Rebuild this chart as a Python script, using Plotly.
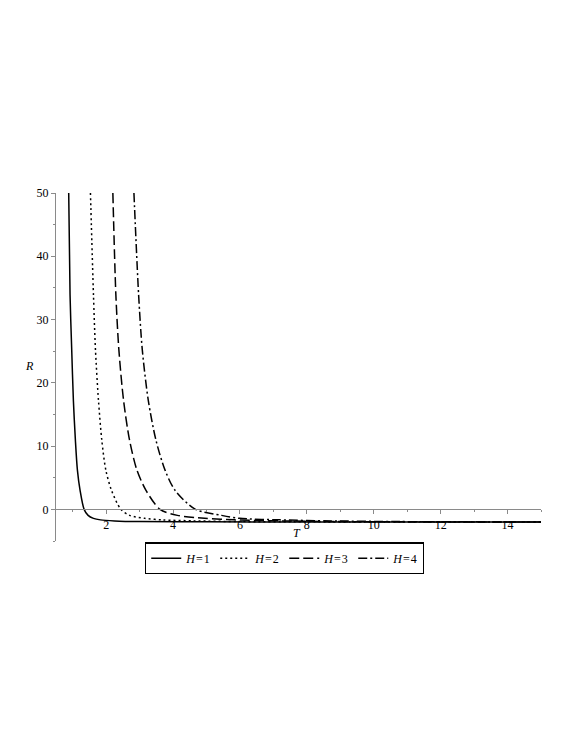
import plotly.graph_objects as go

# values
T1 = [0.88, 0.92, 0.97, 1.02, 1.08, 1.14, 1.22, 1.34, 1.46, 1.62, 1.83, 2.25, 3.0, 5.0, 8.0, 15.0]
R1 = [50, 33.9, 25.2, 17.2, 10.9, 6.2, 3.0, 0.0, -0.95, -1.42, -1.66, -1.82, -1.93, -1.97, -1.99, -2.0]

T2 = [1.53, 1.62, 1.68, 1.77, 1.87, 1.99, 2.16, 2.44, 2.70, 3.15, 3.69, 4.64, 6.0, 8.0, 10.0, 15.0]
R2 = [50, 33.9, 25.2, 17.2, 10.9, 6.2, 3.0, 0.0, -0.95, -1.42, -1.66, -1.82, -1.93, -1.97, -1.99, -2.0]

T3 = [2.20, 2.29, 2.38, 2.52, 2.70, 2.92, 3.19, 3.61, 4.13, 4.94, 5.84, 7.19, 8.98, 11.0, 15.0]
R3 = [50, 33.9, 25.2, 17.2, 10.9, 6.2, 3.0, 0.0, -0.95, -1.42, -1.66, -1.82, -1.93, -1.97, -2.0]

T4 = [2.83, 2.97, 3.08, 3.26, 3.49, 3.76, 4.06, 4.67, 5.45, 5.99, 7.19, 8.69, 10.78, 15.0]
R4 = [50, 33.9, 25.2, 17.2, 10.9, 6.2, 3.0, 0.0, -0.95, -1.42, -1.66, -1.82, -1.93, -2.0]

NAMES = ['<i>H</i>\u200a=\u200a1', '<i>H</i>\u200a=\u200a2', '<i>H</i>\u200a=\u200a3', '<i>H</i>\u200a=\u200a4']
DASHES = ['solid', '2px,3px', '10px,4px', '9px,3px,2px,3px']

AXIS_GREY = '#8a8a8a'
FONT = 'Liberation Serif, Times New Roman, serif'

fig = go.Figure()

for i, (t, r) in enumerate([(T1, R1), (T2, R2), (T3, R3), (T4, R4)]):
    fig.add_trace(go.Scatter(x=t, y=r, mode='lines', name=NAMES[i],
                             line=dict(color='black', width=1.5, dash=DASHES[i],
                                       shape='spline', smoothing=0.8)))

# page body has an 8px margin, so the figure is offset by 8px on screen
fig.update_layout(
    width=581, height=752,
    paper_bgcolor='white', plot_bgcolor='white',
    margin=dict(l=48, r=48, t=185, b=219, autoexpand=False),
    font=dict(family=FONT, size=12, color='black'),
    showlegend=True,
    legend=dict(orientation='h', x=0.471, xanchor='center', y=-0.004, yanchor='top',
                bordercolor='black', borderwidth=1.3, bgcolor='white',
                font=dict(family=FONT, size=12), itemwidth=30, entrywidth=24,
                tracegroupgap=0),
)

fig.update_xaxes(range=[0.5, 15], showgrid=False, zeroline=False,
                 anchor='free', position=5 / 55,
                 showline=True, linecolor=AXIS_GREY, linewidth=1,
                 tickvals=[2, 4, 6, 8, 10, 12, 14], ticks='outside', ticklen=4,
                 tickcolor=AXIS_GREY, tickfont=dict(family=FONT, size=12, color='black'),
                 minor=dict(tickvals=[1, 3, 5, 7, 9, 11, 13, 15], ticks='outside',
                            ticklen=2, tickcolor=AXIS_GREY))

fig.update_yaxes(range=[-5, 50], showgrid=False, zeroline=False,
                 showline=True, linecolor=AXIS_GREY, linewidth=1,
                 tickvals=[0, 10, 20, 30, 40, 50], ticks='outside', ticklen=4,
                 tickcolor=AXIS_GREY, tickfont=dict(family=FONT, size=12, color='black'),
                 minor=dict(tickvals=[-5, 5, 15, 25, 35, 45], ticks='outside',
                            ticklen=2, tickcolor=AXIS_GREY))

fig.add_annotation(text='<i>R</i>', xref='paper', yref='paper', x=-0.054, y=0.502,
                   showarrow=False, font=dict(family=FONT, size=12), xanchor='center', yanchor='middle')
fig.add_annotation(text='<i>T</i>', xref='paper', yref='paper', x=0.497, y=0.022,
                   showarrow=False, font=dict(family=FONT, size=12), xanchor='center', yanchor='middle')

fig.write_html("out.html")
